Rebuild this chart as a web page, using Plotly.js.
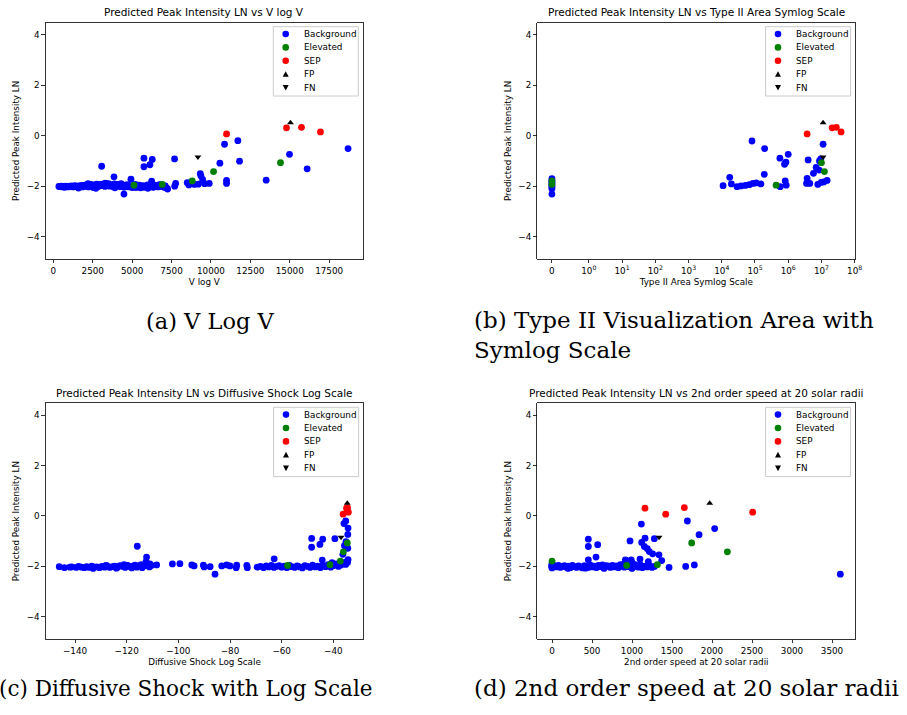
<!DOCTYPE html>
<html><head><meta charset="utf-8">
<script src="https://cdn.plot.ly/plotly-3.0.1.min.js"></script>
<style>html,body{margin:0;padding:0;background:#fff}#chart{width:907px;height:715px}</style>
</head><body><div id="chart"></div>
<script>
// ================= DATA =================
const categories = ['Background', 'Elevated', 'SEP', 'FP', 'FN'];
const categoryColors = ['#0000ff', '#008000', '#ff0000', '#000000', '#000000'];

// shared predicted values (y) of the labelled events
const elevatedY = [-1.96, -1.93, -1.79, -1.42, -1.07];
const sepY = [0.07, 0.31, 0.33, 0.15];
const fpY = [0.51];
const fnY = [-0.84];

// ---- (a) V log V ----
const vlogvBackgroundX = [350,420,500,580,650,720,800,870,950,1020,
  1100,1170,1250,1320,1400,1480,1550,1630,1700,1780,1850,1930,
  2000,2080,2150,2230,2300,2380,2450,2530,2600,2680,2750,2830,2900,2980,
  3050,3130,3200,3280,3350,3430,3500,3580,3650,3730,3800,3880,3950,4030,
  4100,4180,4250,4330,4400,4480,4550,4630,4700,4780,4850,4930,5000,
  5080,5150,5230,5300,5380,5450,5530,5600,5680,5750,5830,5900,5980,6050,
  6130,6200,6280,6350,6430,6500,6580,6650,6730,6800,6880,6950,7030,7100,7180,
  1600,2200,2700,3300,3900,4300,5200,6000,
  3065,3847,4924,4480,5749,5749,6129,6277,6235,7693,7760,7700,7250,8496,8600,8775,8950,
  9321,9363,9469,9200,9600,9891,10568,10863,10990,10990,11709,11815,13505,14985,16105,18704];
const vlogvBackgroundY = [-2.01,-2.02,-2.0,-2.03,-2.01,-2.04,-2.0,-2.02,-2.03,-2.0,
  -2.02,-1.99,-2.03,-2.0,-1.98,-2.02,-2.04,-1.99,-2.01,-1.97,-2.03,-1.98,
  -1.96,-2.01,-1.94,-2.03,-1.97,-1.93,-2.0,-2.05,-1.95,-1.99,-1.92,-2.02,-1.96,-1.93,
  -1.98,-1.92,-1.95,-2.01,-1.93,-1.97,-1.9,-2.0,-1.94,-1.96,-2.02,-1.91,-1.95,-1.99,
  -1.93,-1.97,-2.02,-1.95,-1.99,-2.04,-1.96,-2.01,-1.94,-2.03,-1.98,-2.0,-2.05,
  -2.02,-1.97,-2.05,-2.0,-2.03,-1.96,-2.06,-2.01,-1.98,-2.04,-2.0,-2.03,-1.95,-2.02,
  -1.97,-2.03,-1.99,-2.04,-1.96,-2.01,-1.98,-2.03,-1.94,-2.0,-1.96,-2.02,-2.04,-1.99,-2.07,
  -2.07,-1.9,-2.08,-1.88,-2.06,-1.9,-1.93,-2.08,
  -1.21,-1.63,-1.72,-2.31,-0.89,-1.23,-1.15,-0.94,-1.80,-0.92,-1.89,-2.0,-2.11,-1.86,-1.95,-1.82,-1.93,
  -1.50,-1.59,-1.73,-1.92,-1.90,-1.89,-1.09,-0.34,-1.77,-1.89,-0.20,-1.01,-1.76,-0.74,-1.31,-0.51];
const vlogvElevatedX = [5115, 6911, 8813, 10166, 14414];
const vlogvSepX = [10990, 14795, 15746, 16950];
const vlogvFpX = [15048];
const vlogvFnX = [9173];
const vlogvTicks = [0, 2500, 5000, 7500, 10000, 12500, 15000, 17500];

// ---- (b) Type II area (symlog) ----
const typeIIBackgroundX = [0,0,0,0,0,0,0,0,
  10960,17380,19500,28840,38020,51290,67610,87100,109600,151400,
  81280,195000,190500,562300,575400,776200,851100,812800,871000,1000000,
  3981000,3715000,3548000,4467000,5754000,6918000,8511000,8710000,7762000,9772000,
  11750000,14790000,11220000,9550000];
const typeIIBackgroundY = [-1.70,-1.76,-1.84,-1.90,-1.97,-2.03,-2.10,-2.31,
  -1.98,-1.65,-1.91,-2.02,-1.99,-1.97,-1.94,-1.89,-1.87,-1.91,
  -0.21,-0.51,-1.53,-0.89,-2.02,-1.13,-1.05,-1.79,-1.96,-0.74,
  -0.96,-1.69,-1.89,-1.89,-1.49,-1.26,-1.36,-1.0,-1.93,-1.85,
  -1.83,-1.77,-0.34,-0.92];
const typeIIElevatedX = [432500, 0, 0, 12300000, 10000000];
const typeIISepX = [3700000, 21000000, 28000000, 39000000];
const typeIIFpX = [11200000];
const typeIIFnX = [11200000];
const typeIITickValues = [0, 1, 10, 100, 1000, 1e4, 1e5, 1e6, 1e7, 1e8];
const typeIITickText = ['0', '10<sup>0</sup>', '10<sup>1</sup>', '10<sup>2</sup>', '10<sup>3</sup>',
  '10<sup>4</sup>', '10<sup>5</sup>', '10<sup>6</sup>', '10<sup>7</sup>', '10<sup>8</sup>'];

// ---- (c) Diffusive shock (log scale) ----
const shockBackgroundX = [-146.1,-144.1,-142,-141.3,-139.5,-138.6,-137.5,-136.4,-135.5,-134.6,-133.5,-132.5,
  -131.6,-130.5,-129.6,-128.5,-127.6,-126.5,-125.5,-124.6,-123.5,-122.6,-121.5,-120.6,-119.6,-118.5,
  -117.6,-116.8,-116,-115.2,-114.4,-113.6,-112.8,-112,-111.2,-110.4,
  -133,-128,-124,-121,-118,-114,-111,
  -108.4,-102.3,-99.4,-94.8,-93.9,-90.3,-90.0,-87.7,-85.8,-83.2,-81.3,-80.0,-77.4,-77.6,-73.5,-73.3,
  -115.9,-112.3,-112.5,-62.9,
  -69.5,-68.2,-67,-66,-65,-64,-63,-62,-61,-60,-59,-58,-57,-56,-55,-54,-53,-52,-51,-50,-49,-48,
  -47,-46,-45,-44,-43,-42,-41,-40,-39,-38,-37,-36,-35.2,-34.5,
  -48.4,-48.4,-45.2,-44.1,-44.3,-39.4,-35.9,-35.2,-34.3,-34.4,-35.1,-34.4,-35.7,-36.3,-34.3,-35.3,-40.5,-42];
const shockBackgroundY = [-2.01,-2.05,-2.03,-2.02,-2.04,-2.0,-2.03,-2.05,-2.01,-2.04,-1.99,-2.03,
  -2.02,-2.05,-2.0,-2.03,-1.98,-2.04,-2.01,-1.99,-2.03,-1.97,-2.0,-2.04,-1.96,-2.02,
  -1.99,-1.95,-2.03,-1.97,-1.93,-2.0,-1.94,-1.97,-2.02,-1.96,
  -2.08,-1.96,-2.07,-1.93,-2.06,-2.05,-1.9,
  -1.94,-1.90,-1.89,-1.94,-1.98,-1.95,-2.02,-2.01,-2.31,-1.98,-1.94,-1.98,-1.95,-2.05,-1.96,-2.05,
  -1.20,-1.63,-1.81,-1.70,
  -2.03,-2.0,-2.05,-1.98,-2.02,-1.96,-2.04,-2.0,-1.97,-2.03,-1.99,-2.05,-1.96,-2.01,-2.04,-1.98,-2.02,-2.06,-1.97,-2.0,-2.04,-1.95,
  -2.02,-1.99,-2.05,-1.96,-2.01,-1.93,-2.03,-1.97,-1.9,-2.0,-1.94,-1.88,-1.92,-1.85,
  -0.89,-1.24,-1.13,-0.92,-1.75,-0.90,-0.30,-0.20,-0.48,-0.73,-1.02,-1.28,-1.18,-1.52,-1.73,-1.83,-1.85,-1.95];
const shockElevatedX = [-57.7, -41.3, -37.3, -36.1, -34.6];
const shockSepX = [-36.2, -34.9, -34.5, -34.2];
const shockFpX = [-34.6];
const shockFnX = [-37.0];
const shockTicks = [-140, -120, -100, -80, -60, -40];

// ---- (d) 2nd order speed at 20 solar radii ----
const speedBackgroundX = [-5,0,10,30,55,80,105,130,155,180,205,230,255,280,305,330,355,380,405,430,455,480,
  505,530,555,580,605,630,655,680,705,730,755,780,805,830,855,880,905,930,955,980,1005,1030,1055,1080,
  1105,1130,1160,1190,1220,1250,1280,
  0,0,200,420,650,900,1000,1100,1000,
  454,454,571,550,454,975,917,990,1117,1163,1121,1154,1191,1216,1258,1337,1371,1279,1204,1100,
  1463,1671,1779,1692,1838,2033,3604];
const speedBackgroundY = [-1.97,-2.03,-1.93,-2.0,-2.02,-1.96,-2.04,-2.0,-1.97,-2.03,-1.99,-2.05,-1.96,-2.01,
  -2.04,-1.98,-2.02,-2.06,-1.97,-2.0,-2.04,-1.95,-2.02,-1.99,-2.05,-1.96,-2.01,-1.94,-2.03,-1.97,-1.99,
  -2.04,-1.96,-2.02,-1.98,-2.05,-1.93,-2.0,-2.03,-1.97,-2.01,-1.95,-2.04,-1.92,-2.0,-2.03,-1.96,-2.05,
  -1.99,-2.02,-1.97,-2.04,-2.0,
  -2.06,-1.9,-2.08,-2.07,-2.08,-1.9,-2.08,-1.92,-1.85,
  -0.92,-1.21,-1.14,-1.63,-1.74,-0.99,-1.74,-1.74,-0.32,-0.88,-1.05,-1.21,-1.30,-1.41,-1.50,-1.54,-1.77,-0.90,-1.81,-1.71,
  -2.04,-2.0,-1.94,-0.20,-0.74,-0.50,-2.31];
const speedElevatedX = [933, 1317, 0, 2192, 1746];
const speedSepX = [1421, 1162, 1654, 2508];
const speedFpX = [1971];
const speedFnX = [1338];
const speedTicks = [0, 500, 1000, 1500, 2000, 2500, 3000, 3500];

const yTicks = [-4, -2, 0, 2, 4];

const subplotTitles = [
  'Predicted Peak Intensity LN vs V log V',
  'Predicted Peak Intensity LN vs Type II Area Symlog Scale',
  'Predicted Peak Intensity LN vs Diffusive Shock Log Scale',
  'Predicted Peak Intensity LN vs 2nd order speed at 20 solar radii'];
const xAxisTitles = ['V log V', 'Type II Area Symlog Scale', 'Diffusive Shock Log Scale', '2nd order speed at 20 solar radii'];
const yAxisTitle = 'Predicted Peak Intensity LN';
const captions = ['(a) V Log V', '(b) Type II Visualization Area with<br>Symlog Scale',
  '(c) Diffusive Shock with Log Scale', '(d) 2nd order speed at 20 solar radii'];

// ================= BUILD =================
const W = 907, H = 715;
const FONT = 'DejaVu Sans';
const px = v => v / W;
const py = v => 1 - v / H;

// matplotlib symlog (linthresh=1, linscale=1, base 10)
const LINADJ = 1 / (1 - 1 / 10);
function symlog(v) {
  const a = Math.abs(v);
  if (a <= 1) return v * LINADJ;
  return Math.sign(v) * (LINADJ + Math.log10(a));
}

// panel boxes in pixels
const boxes = [
  {l: 45.7, r: 363.0, t: 22.7, b: 259},
  {l: 537.3, r: 855.3, t: 22.7, b: 259},
  {l: 45.7, r: 363.3, t: 403.3, b: 639},
  {l: 537.3, r: 855.3, t: 403.3, b: 639}];

const panels = [
  {bg: [vlogvBackgroundX, vlogvBackgroundY], el: vlogvElevatedX, sep: vlogvSepX, fp: vlogvFpX, fn: vlogvFnX, tf: v => v},
  {bg: [typeIIBackgroundX, typeIIBackgroundY], el: typeIIElevatedX, sep: typeIISepX, fp: typeIIFpX, fn: typeIIFnX, tf: symlog},
  {bg: [shockBackgroundX, shockBackgroundY], el: shockElevatedX, sep: shockSepX, fp: shockFpX, fn: shockFnX, tf: v => v},
  {bg: [speedBackgroundX, speedBackgroundY], el: speedElevatedX, sep: speedSepX, fp: speedFpX, fn: speedFnX, tf: v => v}];

const traces = [];
panels.forEach((p, i) => {
  const xa = 'x' + (i + 1), ya = 'y' + (i + 1);
  const sets = [
    [p.bg[0], p.bg[1], 'circle', 6.8],
    [p.el, elevatedY, 'circle', 6.8],
    [p.sep, sepY, 'circle', 6.8],
    [p.fp, fpY, 'triangle-up', 6],
    [p.fn, fnY, 'triangle-down', 6]];
  sets.forEach((s, k) => {
    traces.push({
      type: 'scatter', mode: 'markers', name: categories[k],
      x: s[0].map(p.tf), y: s[1], xaxis: xa, yaxis: ya, showlegend: false,
      marker: {color: categoryColors[k], size: s[3], symbol: s[2], line: {width: 0}},
      hoverinfo: 'x+y+name'
    });
  });
});

const xRanges = [[-486, 19650], [-0.44, 9.13], [-151.35, -28.4], [-184, 3791]];
const layout = {
  width: W, height: H, margin: {l: 0, r: 0, t: 0, b: 0},
  paper_bgcolor: '#fff', plot_bgcolor: '#fff', showlegend: false,
  font: {family: FONT, size: 8.8, color: '#000'},
  shapes: [], annotations: []
};

const baseAxis = {
  showline: true, mirror: true, linecolor: '#000', linewidth: 0.8,
  ticks: 'outside', ticklen: 3.5, tickwidth: 0.8, tickcolor: '#000',
  showgrid: false, zeroline: false, automargin: false,
  tickfont: {family: FONT, size: 8.8, color: '#000'}
};

boxes.forEach((b, i) => {
  const n = i + 1;
  const xd = [px(b.l), px(b.r)], yd = [py(b.b), py(b.t)];
  let tickvals, ticktext;
  if (i === 0) tickvals = vlogvTicks;
  else if (i === 1) { tickvals = typeIITickValues.map(symlog); ticktext = typeIITickText; }
  else if (i === 2) tickvals = shockTicks;
  else tickvals = speedTicks;
  const xaxis = Object.assign({}, baseAxis, {
    domain: xd, range: xRanges[i], anchor: 'y' + n,
    tickmode: 'array', tickvals: tickvals,
    title: {text: xAxisTitles[i], font: {family: FONT, size: 8.8, color: '#000'}, standoff: 3}
  });
  if (i === 0) xaxis.tickformat = 'd';
  if (ticktext) xaxis.ticktext = ticktext;
  const yaxis = Object.assign({}, baseAxis, {
    domain: yd, range: [-4.88, 4.47], anchor: 'x' + n,
    tickmode: 'array', tickvals: yTicks,
    title: {text: yAxisTitle, font: {family: FONT, size: 8.8, color: '#000'}, standoff: 5}
  });
  layout['xaxis' + (n === 1 ? '' : n)] = xaxis;
  layout['yaxis' + (n === 1 ? '' : n)] = yaxis;

  // subplot title
  layout.annotations.push({
    xref: 'paper', yref: 'paper', x: px((b.l + b.r) / 2), y: py(b.t - 10.5),
    xanchor: 'center', yanchor: 'middle', showarrow: false, text: subplotTitles[i],
    font: {family: FONT, size: 10.5, color: '#000'}
  });

  // legend
  layout.shapes.push({
    type: 'rect', xref: 'paper', yref: 'paper',
    x0: px(b.r - 89.7), x1: px(b.r - 4.7), y0: py(b.t + 73.3), y1: py(b.t + 4),
    fillcolor: 'rgba(255,255,255,0.8)', line: {color: '#cccccc', width: 1}
  });
  categories.forEach((c, k) => {
    const my = b.t + 11.3 + k * 13.4;
    const mx = b.r - 77.3;
    if (k < 3) {
      layout.shapes.push({
        type: 'circle', xref: 'paper', yref: 'paper', xsizemode: 'pixel', ysizemode: 'pixel',
        xanchor: px(mx), yanchor: py(my), x0: -3.3, x1: 3.3, y0: -3.3, y1: 3.3,
        fillcolor: categoryColors[k], line: {width: 0}
      });
    } else {
      const path = k === 3 ? 'M-3,-2.6L3,-2.6L0,3Z' : 'M-3,2.6L3,2.6L0,-3Z';
      layout.shapes.push({
        type: 'path', xref: 'paper', yref: 'paper', xsizemode: 'pixel', ysizemode: 'pixel',
        xanchor: px(mx), yanchor: py(my), path: path,
        fillcolor: '#000', line: {width: 0}
      });
    }
    layout.annotations.push({
      xref: 'paper', yref: 'paper', x: px(b.r - 61.5), y: py(my),
      xanchor: 'left', yanchor: 'middle', showarrow: false, text: c,
      font: {family: FONT, size: 8.8, color: '#000'}
    });
  });
});

// captions
const capFont = s => ({family: 'DejaVu Serif', size: s, color: '#000'});
layout.annotations.push({xref: 'paper', yref: 'paper', x: px(210), y: py(321), xanchor: 'center', yanchor: 'middle',
  showarrow: false, text: captions[0], font: capFont(22.5)});
layout.annotations.push({xref: 'paper', yref: 'paper', x: px(472), y: py(335), xanchor: 'left', yanchor: 'middle',
  align: 'left', showarrow: false, text: captions[1], font: capFont(23)});
layout.annotations.push({xref: 'paper', yref: 'paper', x: px(186), y: py(688), xanchor: 'center', yanchor: 'middle',
  showarrow: false, text: captions[2], font: capFont(21.5)});
layout.annotations.push({xref: 'paper', yref: 'paper', x: px(472), y: py(688), xanchor: 'left', yanchor: 'middle',
  showarrow: false, text: captions[3], font: capFont(23)});

Plotly.newPlot('chart', traces, layout, {displayModeBar: false, staticPlot: true});
</script>
</body></html>
